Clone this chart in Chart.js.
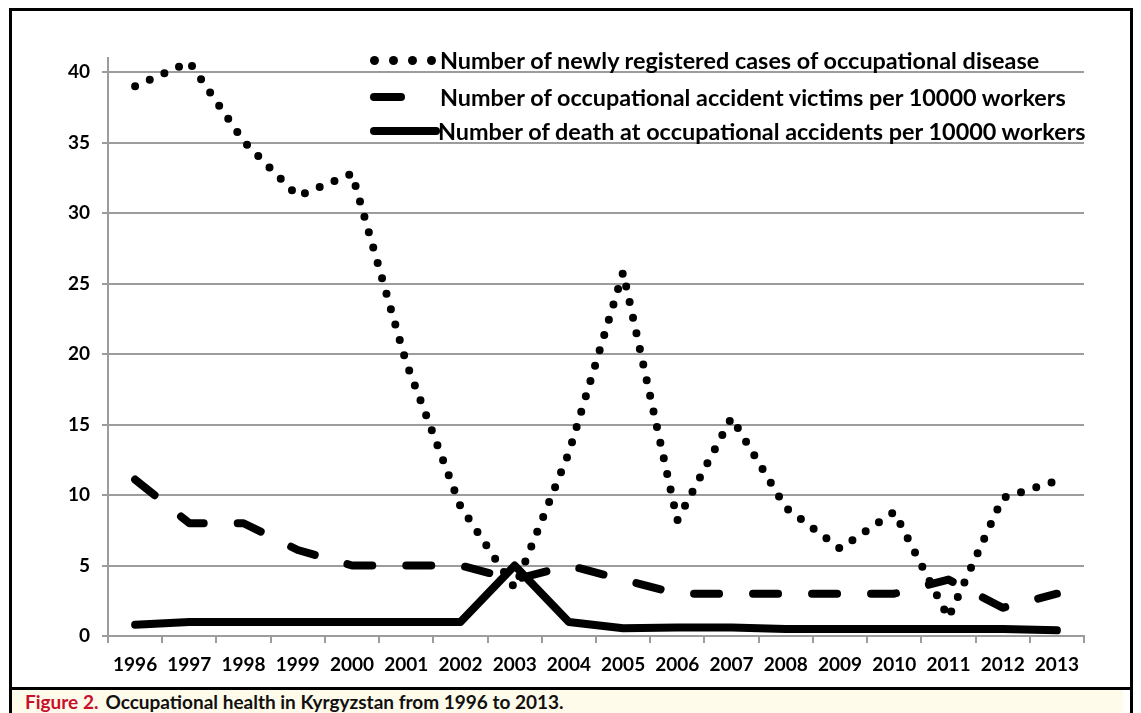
<!DOCTYPE html>
<html>
<head>
<meta charset="utf-8">
<script src="https://cdn.jsdelivr.net/npm/chart.js@4.4.0/dist/chart.umd.min.js"></script>
<style>
  body { margin: 0; background: #fff; }
  #wrap { position: relative; width: 1141px; height: 713px; overflow: hidden; font-family: Lato, "Open Sans", sans-serif; }
  #frame { position: absolute; left: 9px; top: 8px; width: 1124px; height: 720px; border: 3px solid #000; box-sizing: border-box; }
  #hline { position: absolute; left: 9px; top: 687px; width: 1124px; height: 3px; background: #000; }
  #caption { position: absolute; left: 12px; top: 690px; width: 1111px; height: 23px; background: #fffbea;
             font-weight: bold; font-size: 19px; line-height: 24px; padding-left: 13px; box-sizing: border-box; color: #111; }
  #caption span { color: #c8102e; margin-right: 7px; }
  canvas { position: absolute; left: 0; top: 0; }
  .lg { position: absolute; font-weight: bold; font-size: 23.4px; line-height: 28px; color: #000; white-space: nowrap; }
  .dot { position: absolute; width: 9px; height: 9px; border-radius: 50%; background: #000; }
  .bar { position: absolute; height: 8px; border-radius: 4px; background: #000; }
</style>
</head>
<body>
<div id="wrap">
  <canvas id="myChart" width="1141" height="713"></canvas>
  <div id="frame"></div>
  <div id="hline"></div>
  <div id="caption"><span>Figure 2.</span>Occupational health in Kyrgyzstan from 1996 to 2013.</div>
  <div id="legend"></div>
</div>
<script>
const years = ['1996','1997','1998','1999','2000','2001','2002','2003','2004','2005','2006','2007','2008','2009','2010','2011','2012','2013']
const newCases = [39, 40.7, 35.1, 31.2, 32.8, 19.4, 9.2, 3.4, 13, 25.8, 8.2, 15.5, 9.1, 6.2, 8.8, 1.3, 9.8, 11]
const accidentVictims = [11.1, 8, 8, 6.1, 5, 5, 5, 4, 5, 4, 3, 3, 3, 3, 3, 4, 2, 3]
const deaths = [0.8, 1, 1, 1, 1, 1, 1, 5, 1, 0.55, 0.6, 0.6, 0.5, 0.5, 0.5, 0.5, 0.5, 0.4]
const yTicks = [0, 5, 10, 15, 20, 25, 30, 35, 40]
const seriesNames = [
    'Number of newly registered cases of occupational disease',
    'Number of occupational accident victims per 10000 workers',
    'Number of death at occupational accidents per 10000 workers'
]

const gridGrey = '#9c9c9c'
const tickFont = { family: 'Lato', size: 19, weight: 'bold' }

function buildLegend() {
    const lg = document.getElementById('legend')
    let html = ''
    // row 1 - dots
    ;[374, 393, 412, 431].forEach(x => { html += `<div class="dot" style="left:${x-4.5}px;top:${60-4.5}px"></div>` })
    html += `<div class="lg" style="left:440px;top:${60-14}px">${seriesNames[0]}</div>`
    // row 2 - dash
    html += `<div class="bar" style="left:370px;width:35px;top:${97-4}px"></div>`
    html += `<div class="lg" style="left:440px;top:${97-14}px">${seriesNames[1]}</div>`
    // row 3 - solid
    html += `<div class="bar" style="left:370px;width:70px;top:${131-4}px"></div>`
    html += `<div class="lg" style="left:438px;top:${131-14}px">${seriesNames[2]}</div>`
    lg.innerHTML = html
}
buildLegend()

const ctx = document.getElementById('myChart')
new Chart(ctx, {
    type: 'line',
    data: {
        labels: years,
        datasets: [{
            label: seriesNames[0],
            data: newCases,
            borderColor: '#000',
            borderWidth: 8,
            borderDash: [0, 16],
            borderCapStyle: 'round',
            borderJoinStyle: 'round',
            pointRadius: 0,
            order: 2
        }, {
            label: seriesNames[1],
            data: accidentVictims,
            borderColor: '#000',
            borderWidth: 8,
            borderDash: [25, 34],
            borderCapStyle: 'round',
            borderJoinStyle: 'round',
            pointRadius: 0,
            order: 1
        }, {
            label: seriesNames[2],
            data: deaths,
            borderColor: '#000',
            borderWidth: 8,
            borderCapStyle: 'round',
            borderJoinStyle: 'round',
            pointRadius: 0,
            order: 0
        }]
    },
    options: {
        responsive: false,
        animation: false,
        devicePixelRatio: 1,
        layout: { padding: { left: 0, right: 57, top: 58, bottom: 0 } },
        plugins: { legend: { display: false }, tooltip: { enabled: false } },
        scales: {
            x: {
                offset: true,
                grid: { offset: true, drawOnChartArea: false, drawTicks: true, tickLength: 7, color: gridGrey, lineWidth: 2 },
                border: { color: gridGrey, width: 2 },
                ticks: { color: '#000', font: tickFont, padding: 10, maxRotation: 0, autoSkip: false },
                afterFit: scale => { scale.height = 77 }
            },
            y: {
                min: 0,
                max: 41,
                grid: { color: gridGrey, lineWidth: 2, tickLength: 6 },
                border: { color: gridGrey, width: 2 },
                ticks: { color: '#000', font: tickFont, padding: 12, stepSize: 5 },
                afterBuildTicks: scale => { scale.ticks = yTicks.map(v => ({ value: v })) },
                afterFit: scale => { scale.width = 108 }
            }
        }
    }
})
</script>
</body>
</html>
